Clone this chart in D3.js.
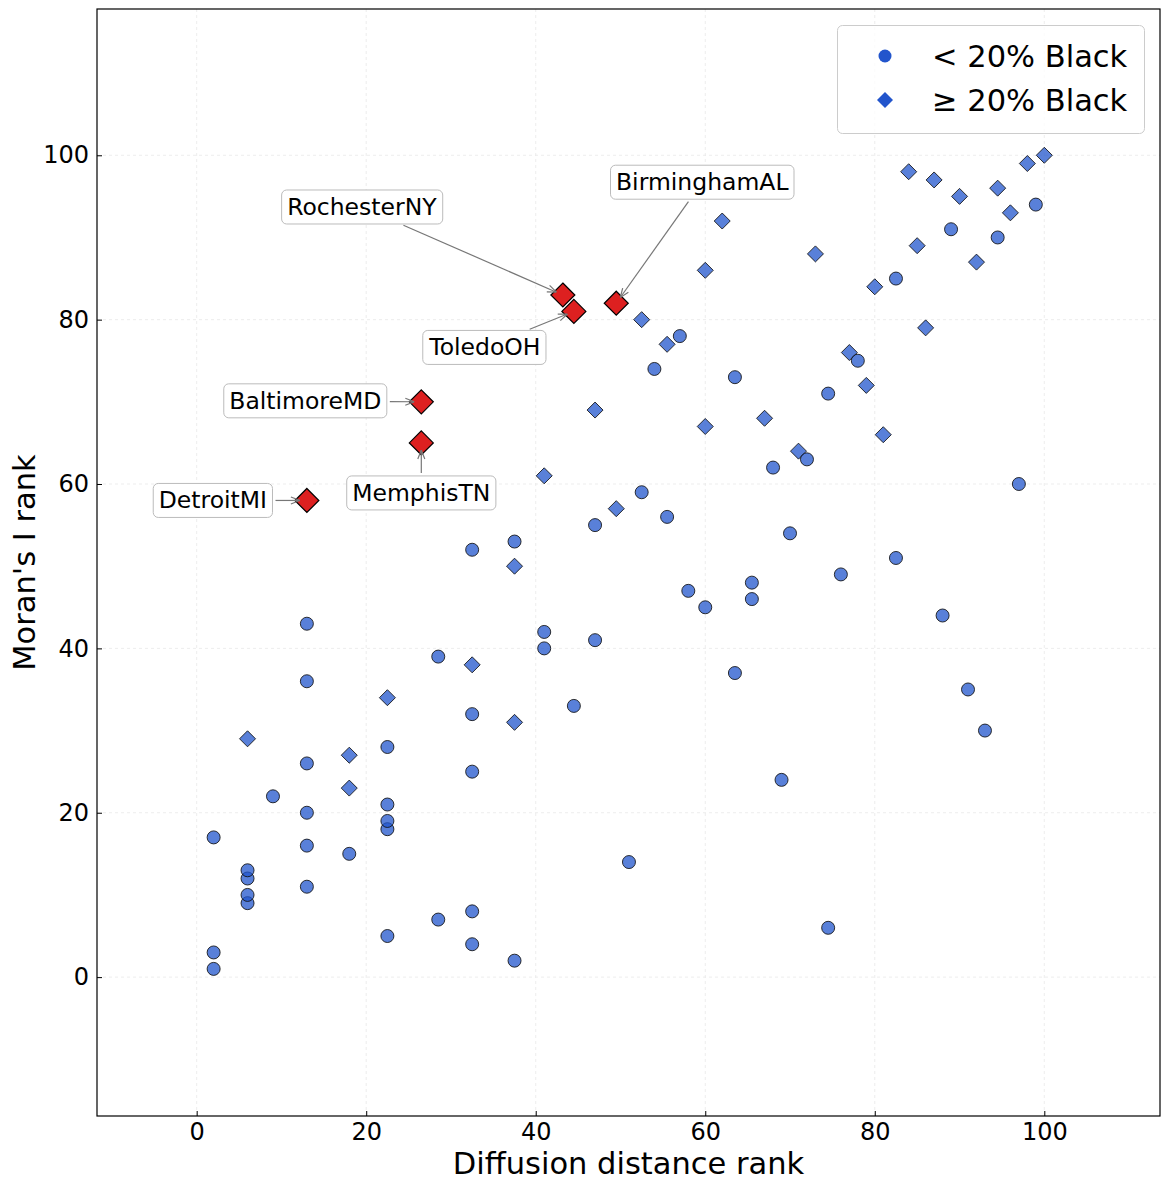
<!DOCTYPE html>
<html>
<head>
<meta charset="utf-8">
<script src="https://cdn.jsdelivr.net/npm/d3@7"></script>
<style>
  html, body { margin: 0; padding: 0; background: #fff; }
  svg { display: block; font-family: "DejaVu Sans", sans-serif; }
</style>
</head>
<body>
<svg id="chart" width="1170" height="1189"></svg>
<script>
// ---------------- data ----------------
// < 20% Black (circles)
const lowX = [2,2,2,6,6,6,6,9,13,13,13,13,13,13,18,22.5,22.5,22.5,22.5,22.5,28.5,28.5,32.5,32.5,32.5,32.5,32.5,37.5,37.5,41,41,44.5,47,47,51,52.5,54,55.5,57,58,60,63.5,63.5,65.5,65.5,68,69,70,72,74.5,74.5,76,78,82.5,82.5,88,89,91,93,94.5,97,99];
const lowY = [1,3,17,9,10,12,13,22,11,16,20,26,36,43,15,5,18,19,21,28,7,39,4,8,25,32,52,2,53,40,42,33,41,55,14,59,74,56,78,47,45,37,73,46,48,62,24,54,63,6,71,49,75,51,85,44,91,35,30,90,60,94];
// >= 20% Black (diamonds)
const highX = [6,18,18,22.5,32.5,37.5,37.5,41,47,49.5,52.5,55.5,60,60,62,67,71,73,77,79,80,81,84,85,86,87,90,92,94.5,96,98,100];
const highY = [29,23,27,34,38,31,50,61,69,57,80,77,67,86,92,68,64,88,76,72,84,66,98,89,79,97,95,87,96,93,99,100];
// highlighted cities
const hlNames = ["RochesterNY","ToledoOH","BirminghamAL","BaltimoreMD","MemphisTN","DetroitMI"];
const hlX = [43.2,44.5,49.5,26.5,26.5,13];
const hlY = [83,81,82,70,65,58];
// label text offsets (pixels from the point)
const hlDx = [-201,-89,86,-116,0,-94];
const hlDy = [-88,36,-121,-1,50,0];

const xTicks = [0,20,40,60,80,100];
const yTicks = [0,20,40,60,80,100];
const legendLabels = ["< 20% Black", "\u2265 20% Black"];

// ---------------- layout ----------------
const L = 97, R = 1160, T = 9, B = 1116;
const x = d3.scaleLinear().domain([-11.76, 113.65]).range([L, R]);
const y = d3.scaleLinear().domain([-16.9, 117.8]).range([B, T]);

const svg = d3.select("#chart");
const blue = "#2255cc";
const red = "#dd2020";

const diamondType = {
  draw(ctx, size) {
    const r = Math.sqrt(size / 2);
    ctx.moveTo(0, -r); ctx.lineTo(r, 0); ctx.lineTo(0, r); ctx.lineTo(-r, 0); ctx.closePath();
  }
};

// grid
const grid = svg.append("g");
grid.selectAll("line.gx").data(xTicks).join("line")
  .attr("x1", d => x(d)).attr("x2", d => x(d)).attr("y1", T).attr("y2", B)
  .attr("stroke", "#e8e8e8").attr("stroke-width", 0.8).attr("stroke-dasharray", "3,3");
grid.selectAll("line.gy").data(yTicks).join("line")
  .attr("y1", d => y(d)).attr("y2", d => y(d)).attr("x1", L).attr("x2", R)
  .attr("stroke", "#e8e8e8").attr("stroke-width", 0.8).attr("stroke-dasharray", "3,3");

// axes
const xAxis = svg.append("g").attr("transform", `translate(0,${B})`)
  .call(d3.axisBottom(x).tickValues(xTicks).tickSizeInner(-5).tickSizeOuter(0).tickPadding(7).tickFormat(d3.format("d")));
const yAxis = svg.append("g").attr("transform", `translate(${L},0)`)
  .call(d3.axisLeft(y).tickValues(yTicks).tickSizeInner(-5).tickSizeOuter(0).tickPadding(8).tickFormat(d3.format("d")));
[xAxis, yAxis].forEach(g => {
  g.select(".domain").remove();
  g.selectAll(".tick line").attr("stroke", "#000").attr("stroke-width", 1);
  g.selectAll(".tick text").attr("font-size", 24).attr("fill", "#000")
    .attr("font-family", "DejaVu Sans, sans-serif");
});

// points: diamonds, then circles
const highData = highX.map((v, i) => ({ x: v, y: highY[i] }));
const lowData = lowX.map((v, i) => ({ x: v, y: lowY[i] }));

svg.append("g").selectAll("path").data(highData).join("path")
  .attr("d", d3.symbol().type(diamondType).size(128))
  .attr("transform", d => `translate(${x(d.x)},${y(d.y)})`)
  .attr("fill", blue).attr("fill-opacity", 0.75)
  .attr("stroke", "#111").attr("stroke-opacity", 0.85).attr("stroke-width", 1);

svg.append("g").selectAll("circle").data(lowData).join("circle")
  .attr("cx", d => x(d.x)).attr("cy", d => y(d.y)).attr("r", 6.5)
  .attr("fill", blue).attr("fill-opacity", 0.75)
  .attr("stroke", "#111").attr("stroke-opacity", 0.85).attr("stroke-width", 1);

// highlighted
const hlData = hlNames.map((n, i) => ({ name: n, x: hlX[i], y: hlY[i], dx: hlDx[i], dy: hlDy[i] }));
svg.append("g").selectAll("path").data(hlData).join("path")
  .attr("d", d3.symbol().type(diamondType).size(288))
  .attr("transform", d => `translate(${x(d.x)},${y(d.y)})`)
  .attr("fill", red).attr("stroke", "#000").attr("stroke-width", 1.2);

// arrow marker
svg.append("defs").append("marker")
  .attr("id", "arr").attr("viewBox", "0 0 10 10").attr("refX", 10).attr("refY", 5)
  .attr("markerWidth", 10).attr("markerHeight", 10).attr("markerUnits", "userSpaceOnUse")
  .attr("orient", "auto")
  .append("path").attr("d", "M1,1.5 L10,5 L1,8.5").attr("fill", "none")
  .attr("stroke", "#777").attr("stroke-width", 1.2);

// annotations
const ann = svg.append("g");
hlData.forEach(d => {
  const px = x(d.x), py = y(d.y);
  const tx = px + d.dx, ty = py + d.dy;
  const g = ann.append("g");
  const t = g.append("text").attr("x", tx).attr("y", ty).attr("text-anchor", "middle")
    .attr("dominant-baseline", "central").attr("font-size", 23.5).attr("fill", "#000").text(d.name);
  const bb = t.node().getBBox();
  const pad = 5.5;
  const bx0 = bb.x - pad, by0 = ty - 17, bw = bb.width + 2 * pad, bh = 34;
  g.insert("rect", "text").attr("x", bx0).attr("y", by0).attr("width", bw).attr("height", bh)
    .attr("rx", 5).attr("fill", "#fff").attr("stroke", "#bbbbbb").attr("stroke-width", 1);
  // arrow from box edge to point
  const vx = px - tx, vy = py - ty;
  const len = Math.hypot(vx, vy);
  const ux = vx / len, uy = vy / len;
  const sx = Math.abs(ux) > 1e-6 ? (bw / 2) / Math.abs(ux) : Infinity;
  const sy = Math.abs(uy) > 1e-6 ? (bh / 2) / Math.abs(uy) : Infinity;
  const s0 = Math.min(sx, sy) + 3;
  const s1 = len - 7;
  d.arrow = [tx + ux * s0, ty + uy * s0, tx + ux * s1, ty + uy * s1];
});
svg.append("g").selectAll("line").data(hlData).join("line")
  .attr("x1", d => d.arrow[0]).attr("y1", d => d.arrow[1])
  .attr("x2", d => d.arrow[2]).attr("y2", d => d.arrow[3])
  .attr("stroke", "#777").attr("stroke-width", 1.2).attr("marker-end", "url(#arr)");

// frame
svg.append("rect").attr("x", L).attr("y", T).attr("width", R - L).attr("height", B - T)
  .attr("fill", "none").attr("stroke", "#000").attr("stroke-width", 1.2);

// axis labels
svg.append("text").attr("x", (L + R) / 2).attr("y", 1174).attr("text-anchor", "middle")
  .attr("font-size", 30.5).attr("fill", "#000").text("Diffusion distance rank");
svg.append("text").attr("transform", `translate(35,${(T + B) / 2}) rotate(-90)`)
  .attr("text-anchor", "middle").attr("font-size", 30.5).attr("fill", "#000").text("Moran's I rank");

// legend
const lg = svg.append("g");
lg.append("rect").attr("x", 837.5).attr("y", 25.5).attr("width", 307).attr("height", 108)
  .attr("rx", 5).attr("fill", "#fff").attr("fill-opacity", 0.8)
  .attr("stroke", "#cccccc").attr("stroke-width", 1);
const legRows = [56, 100];
lg.append("circle").attr("cx", 885).attr("cy", legRows[0]).attr("r", 6.5).attr("fill", blue);
lg.append("path").attr("d", d3.symbol().type(diamondType).size(128)())
  .attr("transform", `translate(885,${legRows[1]})`).attr("fill", blue);
legendLabels.forEach((s, i) => {
  lg.append("text").attr("x", 932).attr("y", legRows[i]).attr("dominant-baseline", "central")
    .attr("font-size", 30.5).attr("fill", "#000").text(s);
});
</script>
</body>
</html>
